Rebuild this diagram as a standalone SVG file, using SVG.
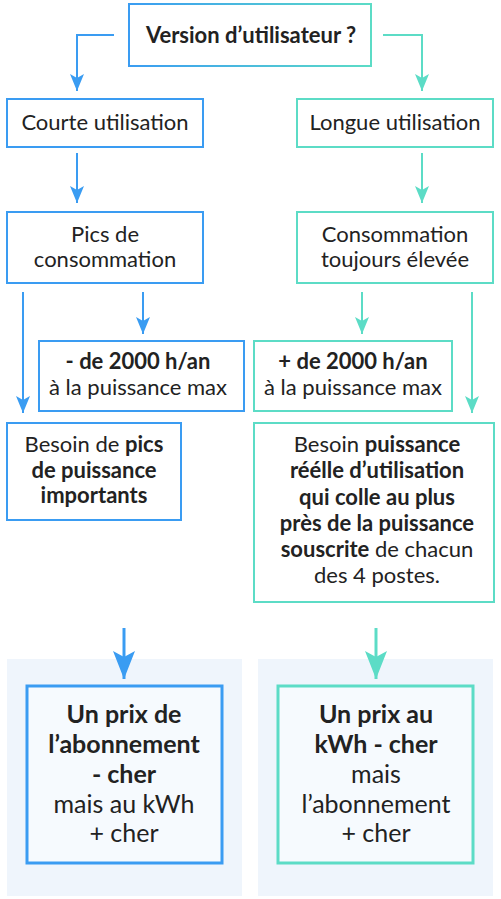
<svg xmlns="http://www.w3.org/2000/svg" width="501" height="899" viewBox="0 0 501 899">
<defs>
<linearGradient id="g" x1="0" y1="0" x2="1" y2="0">
<stop offset="0" stop-color="#3a9cf2"/>
<stop offset="1" stop-color="#5cdcc6"/>
</linearGradient>
<marker id="ab" viewBox="0 0 17 14" refX="17" refY="7" markerWidth="17" markerHeight="14" markerUnits="userSpaceOnUse" orient="auto">
<path d="M0,0 L17,7 L0,14 L4,7 Z" fill="#3a9cf2"/>
</marker>
<marker id="at" viewBox="0 0 17 14" refX="17" refY="7" markerWidth="17" markerHeight="14" markerUnits="userSpaceOnUse" orient="auto">
<path d="M0,0 L17,7 L0,14 L4,7 Z" fill="#5cdcc6"/>
</marker>
<marker id="abB" viewBox="0 0 28 22" refX="28" refY="11" markerWidth="28" markerHeight="22" markerUnits="userSpaceOnUse" orient="auto">
<path d="M0,0 L28,11 L0,22 L6,11 Z" fill="#3a9cf2"/>
</marker>
<marker id="atB" viewBox="0 0 28 22" refX="28" refY="11" markerWidth="28" markerHeight="22" markerUnits="userSpaceOnUse" orient="auto">
<path d="M0,0 L28,11 L0,22 L6,11 Z" fill="#5cdcc6"/>
</marker>
</defs>
<style>
text{font-family:Lato,"Noto Sans","Liberation Sans",sans-serif;fill:#222;text-anchor:middle}
.t{font-size:22px}
.b{font-weight:bold}
.big{font-size:25px}
.bx{fill:#fff;stroke-width:2}
.blue{stroke:#3a9cf2}
.teal{stroke:#5cdcc6}
.bg{fill:#eff5fc}
.fin{fill:#f6fafe;stroke-width:3}
.c{fill:none;stroke-width:2}
.c3{fill:none;stroke-width:3}
</style>
<rect width="501" height="899" fill="#fff"/>
<rect class="bg" x="7" y="659" width="235" height="237"/>
<rect class="bg" x="258" y="659" width="235" height="237"/>
<g id="connectors">
<path class="c blue" d="M114,35 H77 V91" marker-end="url(#ab)"/>
<path class="c teal" d="M383,35 H422 V91" marker-end="url(#at)"/>
<path class="c blue" d="M77,153 V203" marker-end="url(#ab)"/>
<path class="c teal" d="M422,153 V203" marker-end="url(#at)"/>
<path class="c blue" d="M23,292 V413" marker-end="url(#ab)"/>
<path class="c blue" d="M143,292 V334" marker-end="url(#ab)"/>
<path class="c teal" d="M362,292 V334" marker-end="url(#at)"/>
<path class="c teal" d="M472,292 V413" marker-end="url(#at)"/>
<path class="c3 blue" d="M124,628 V679" marker-end="url(#abB)"/>
<path class="c3 teal" d="M376,628 V679" marker-end="url(#atB)"/>
</g>
<g id="n-version">
<rect class="bx" x="129" y="4" width="242" height="62" stroke="url(#g)"/>
<text class="t b" x="251" y="43">Version d’utilisateur ?</text>
</g>
<g id="n-courte">
<rect class="bx blue" x="7" y="99" width="196" height="48"/>
<text class="t" x="105" y="130">Courte utilisation</text>
</g>
<g id="n-longue">
<rect class="bx teal" x="297" y="99" width="196" height="48"/>
<text class="t" x="395" y="130">Longue utilisation</text>
</g>
<g id="n-pics">
<rect class="bx blue" x="7" y="212" width="196" height="71"/>
<text class="t" x="105" y="242">Pics de</text>
<text class="t" x="105" y="267">consommation</text>
</g>
<g id="n-conso">
<rect class="bx teal" x="297" y="212" width="196" height="71"/>
<text class="t" x="395" y="242">Consommation</text>
<text class="t" x="395" y="267">toujours élevée</text>
</g>
<g id="n-moins2000">
<rect class="bx blue" x="39" y="341" width="205" height="70"/>
<text class="t b" x="138" y="369">- de 2000 h/an</text>
<text class="t" x="138" y="395">à la puissance max</text>
</g>
<g id="n-plus2000">
<rect class="bx teal" x="254" y="341" width="198" height="70"/>
<text class="t b" x="353" y="369">+ de 2000 h/an</text>
<text class="t" x="353" y="395">à la puissance max</text>
</g>
<g id="n-besoin-pics">
<rect class="bx blue" x="7" y="423" width="174" height="97"/>
<text class="t" x="94" y="452">Besoin de <tspan class="b">pics</tspan></text>
<text class="t b" x="94" y="478">de puissance</text>
<text class="t b" x="94" y="503">importants</text>
</g>
<g id="n-besoin-puissance">
<rect class="bx teal" x="254" y="423" width="240" height="179"/>
<text class="t" x="377" y="452">Besoin <tspan class="b">puissance</tspan></text>
<text class="t b" x="377" y="478">réélle d’utilisation</text>
<text class="t b" x="377" y="505">qui colle au plus</text>
<text class="t b" x="377" y="531">près de la puissance</text>
<text class="t" x="377" y="557"><tspan class="b">souscrite</tspan> de chacun</text>
<text class="t" x="377" y="583">des 4 postes.</text>
</g>
<g id="n-prix-abonnement">
<rect class="fin blue" x="27" y="686" width="195" height="177"/>
<text class="big b" x="124" y="723">Un prix de</text>
<text class="big b" x="124" y="753">l’abonnement</text>
<text class="big b" x="124" y="783">- cher</text>
<text class="big" x="124" y="813">mais au kWh</text>
<text class="big" x="124" y="842">+ cher</text>
</g>
<g id="n-prix-kwh">
<rect class="fin teal" x="278" y="686" width="195" height="177"/>
<text class="big b" x="376" y="723">Un prix au</text>
<text class="big b" x="376" y="753">kWh - cher</text>
<text class="big" x="376" y="783">mais</text>
<text class="big" x="376" y="813">l’abonnement</text>
<text class="big" x="376" y="842">+ cher</text>
</g>
</svg>
